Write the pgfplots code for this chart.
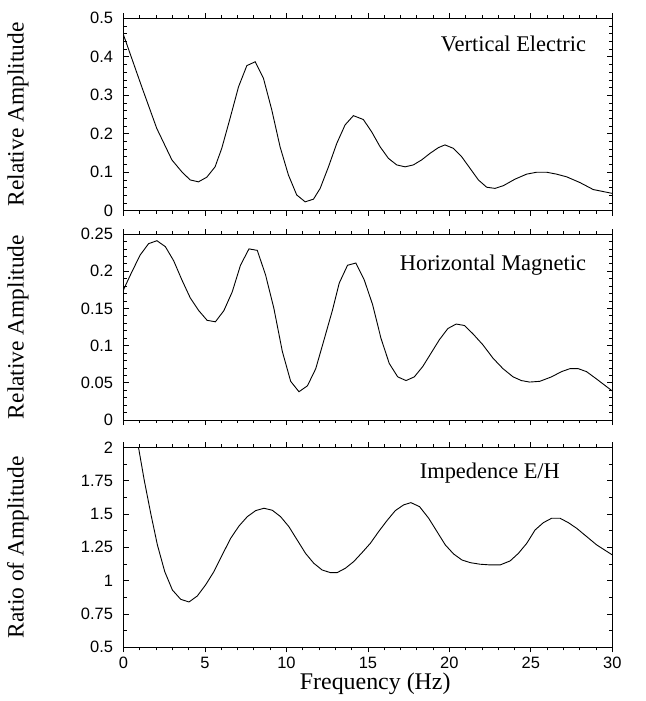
\documentclass[border=0pt]{standalone}
\usepackage{fontspec}
\setmainfont{Liberation Serif}
\setsansfont{Liberation Sans}
\usepackage{pgfplots}
\pgfplotsset{compat=1.18}

\pgfplotsset{
  panel/.style={
    scale only axis,
    width=488.8bp,
    anchor=south west,
    xmin=0, xmax=30,
    xtick={0,5,...,30},
    minor x tick num=4,
    xtick align=outside,
    ytick align=inside,
    major tick length=5bp,
    minor tick length=3bp,
    axis line style={line width=0.8bp},
    every tick/.style={black, line width=0.7bp},
    tick label style={font=\sffamily\fontsize{16.5}{16.5}\selectfont},
    /pgf/number format/assume math mode=true,
    /pgf/number format/fixed,
    yticklabel style={xshift=-7bp},
    xticklabel style={yshift=-1bp},
    every axis y label/.style={at={(axis description cs:-0.216,0.5)}, rotate=90, anchor=center,
      font=\fontsize{23.5}{23.5}\selectfont},
    every axis x label/.style={at={(axis description cs:0.515,-0.18)}, anchor=center,
      font=\fontsize{24}{24}\selectfont},
  },
  curve/.style={black, line width=0.9bp, mark=none},
}

\begin{document}
\begin{tikzpicture}
\useasboundingbox (0bp,0bp) rectangle (646bp,-701bp);

% vertical electric
\begin{axis}[panel, at={(123.5bp,-210.7bp)}, height=192.4bp,
  ymin=0, ymax=0.5, ytick={0,0.1,...,0.5}, minor y tick num=4,
  xticklabels={}, ylabel={Relative Amplitude}]
\addplot[curve] coordinates {
(0,0.457) (1.12,0.322) (2.04,0.214) (2.97,0.132) (3.58,0.101) (4.09,0.080)
(4.60,0.075) (5.11,0.087) (5.62,0.114) (6.03,0.162) (6.54,0.240) (7.06,0.322)
(7.57,0.377) (8.08,0.387) (8.59,0.344) (9.10,0.262) (9.61,0.166) (10.12,0.093)
(10.63,0.041) (11.15,0.023) (11.66,0.030) (12.07,0.058) (12.58,0.114) (13.09,0.175)
(13.60,0.223) (14.11,0.247) (14.72,0.237) (15.23,0.205) (15.75,0.166) (16.26,0.136)
(16.77,0.119) (17.28,0.114) (17.79,0.119) (18.30,0.132) (18.81,0.149) (19.33,0.164)
(19.73,0.171) (20.25,0.162) (20.76,0.140) (21.27,0.110) (21.78,0.080) (22.29,0.061)
(22.80,0.058) (23.31,0.065) (24.03,0.082) (24.74,0.095) (25.36,0.100) (25.97,0.100)
(26.58,0.095) (27.20,0.088) (28.02,0.073) (28.83,0.055) (30,0.045)
};
\node[anchor=east, font=\fontsize{22.5}{22.5}\selectfont] at (axis cs:28.6,0.4325) {Vertical Electric};
\end{axis}

% horizontal magnetic
\begin{axis}[panel, at={(123.5bp,-420bp)}, height=186bp,
  ymin=0, ymax=0.25, ytick={0,0.05,...,0.25}, minor y tick num=4,
  yticklabel style={/pgf/number format/precision=2},
  xticklabels={}, ylabel={Relative Amplitude}]
\addplot[curve] coordinates {
(0,0.175) (0.51,0.199) (1.03,0.222) (1.54,0.237) (2.05,0.241) (2.57,0.233)
(3.08,0.214) (3.59,0.188) (4.10,0.164) (4.62,0.147) (5.13,0.134) (5.64,0.132)
(6.16,0.147) (6.67,0.172) (7.18,0.208) (7.70,0.230) (8.21,0.228) (8.72,0.195)
(9.23,0.150) (9.75,0.092) (10.26,0.052) (10.77,0.038) (11.29,0.046) (11.80,0.069)
(12.31,0.108) (12.83,0.148) (13.24,0.184) (13.75,0.208) (14.26,0.211) (14.78,0.188)
(15.29,0.155) (15.80,0.110) (16.31,0.076) (16.83,0.058) (17.34,0.053) (17.85,0.058)
(18.37,0.072) (18.88,0.090) (19.39,0.108) (19.91,0.123) (20.42,0.129) (20.93,0.127)
(21.44,0.116) (22.06,0.101) (22.68,0.083) (23.29,0.069) (23.91,0.058) (24.42,0.053)
(24.93,0.051) (25.55,0.052) (26.27,0.058) (26.88,0.065) (27.40,0.069) (27.91,0.069)
(28.42,0.065) (29.04,0.055) (30,0.039)
};
\node[anchor=east, font=\fontsize{22.5}{22.5}\selectfont] at (axis cs:28.6,0.208) {Horizontal Magnetic};
\end{axis}

% impedance ratio
\begin{axis}[panel, at={(123.5bp,-647.3bp)}, height=200bp,
  ymin=0.5, ymax=2, ytick={0.5,0.75,...,2}, minor y tick num=1,
  ylabel={Ratio of Amplitude}, xlabel={Frequency (Hz)}]
\addplot[curve] coordinates {
(0.80,2.09) (0.92,2.00) (1.27,1.755) (1.67,1.505) (2.08,1.268) (2.53,1.068) (3.00,0.930)
(3.51,0.860) (4.02,0.840) (4.53,0.885) (5.04,0.968) (5.55,1.068) (6.06,1.193)
(6.58,1.318) (7.09,1.410) (7.60,1.480) (8.11,1.525) (8.62,1.543) (9.13,1.528)
(9.64,1.480) (10.15,1.405) (10.66,1.305) (11.17,1.205) (11.68,1.130) (12.19,1.080)
(12.70,1.060) (13.11,1.060) (13.62,1.093) (14.13,1.143) (14.64,1.210) (15.15,1.280)
(15.66,1.368) (16.17,1.450) (16.68,1.525) (17.19,1.568) (17.64,1.585) (18.17,1.555)
(18.73,1.468) (19.24,1.368) (19.75,1.268) (20.26,1.200) (20.77,1.155) (21.28,1.135)
(21.89,1.123) (22.50,1.118) (23.12,1.118) (23.73,1.148) (24.24,1.205) (24.75,1.280)
(25.26,1.380) (25.77,1.435) (26.28,1.468) (26.79,1.468) (27.30,1.435) (27.81,1.393)
(28.43,1.330) (29.04,1.268) (30,1.193)
};
\node[anchor=east, font=\fontsize{22.5}{22.5}\selectfont] at (axis cs:27.0,1.805) {Impedence E/H};
\end{axis}
\end{tikzpicture}
\end{document}
